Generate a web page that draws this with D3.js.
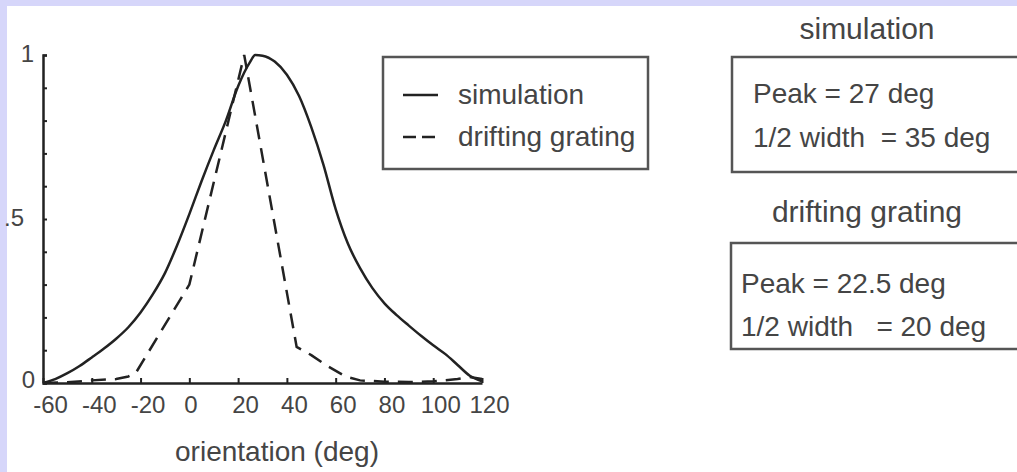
<!DOCTYPE html>
<html>
<head>
<meta charset="utf-8">
<script src="https://cdn.jsdelivr.net/npm/d3@7"></script>
<style>
  html, body { margin: 0; padding: 0; background: #d6d6fa; }
  svg { display: block; }
  text { font-family: "Liberation Sans", Arial, Helvetica, sans-serif; fill: #454545; }
</style>
</head>
<body>
<svg id="chart" width="1017" height="472"></svg>
<script>
// Orientation tuning curves (normalised response vs stimulus orientation)
const simOrientation = [-60,-55,-50,-45,-40,-35,-30,-25,-20,-15,-10,-5,0,5,10,15,20,25,27,30,35,40,45,50,55,60,65,70,75,80,85,90,95,100,105,110,115,120];
const simResponse    = [0,0.012,0.03,0.052,0.078,0.105,0.135,0.17,0.215,0.27,0.335,0.42,0.515,0.615,0.71,0.8,0.905,0.98,1.0,0.998,0.98,0.94,0.875,0.78,0.665,0.53,0.425,0.35,0.29,0.243,0.207,0.175,0.144,0.115,0.088,0.055,0.022,0.005];

const gratingOrientation = [-60,-50,-40,-30,-25,-22,0,22.5,44,50,57,64,70,80,90,100,110,115,120];
const gratingResponse    = [0,0.002,0.008,0.012,0.02,0.03,0.3,1.0,0.11,0.085,0.05,0.02,0.008,0.004,0.003,0.005,0.012,0.018,0.012];

const xTicks = [-60,-40,-20,0,20,40,60,80,100,120];
const yMinorTicks = [0,0.1,0.2,0.3,0.4,0.5,0.6,0.7,0.8,0.9,1];
const yTickValues = [0, 0.5, 1];
const yTickLabels = ["0", ".5", "1"];

const seriesNames = ["simulation", "drifting grating"];
const statTitles = ["simulation", "drifting grating"];
const statPeak = ["Peak = 27 deg", "Peak = 22.5 deg"];
const statWidth = ["1/2 width  = 35 deg", "1/2 width   = 20 deg"];
const xTitle = "orientation (deg)";

const svg = d3.select("#chart");

// white figure panel over the lavender page
svg.append("rect").attr("x", 7).attr("y", 6).attr("width", 1010).attr("height", 466).attr("fill", "#ffffff");

const x = d3.scaleLinear().domain([-60, 120]).range([43, 482]);
const y = d3.scaleLinear().domain([0, 1]).range([383, 55]);

const ink = "#222";

// y axis: small inward ticks every 0.1
const yAxis = svg.append("g")
  .attr("transform", `translate(${x(-60)},0)`)
  .call(d3.axisRight(y).tickValues(yMinorTicks).tickSize(4).tickFormat(""));
yAxis.select(".domain").attr("stroke", ink).attr("stroke-width", 2.5);
yAxis.selectAll(".tick line").attr("stroke", ink).attr("stroke-width", 2);

// y tick labels
const yLabelX = [35, 24, 34];
svg.append("g").selectAll("text")
  .data(yTickValues)
  .join("text")
  .attr("x", (d, i) => yLabelX[i])
  .attr("y", d => y(d))
  .attr("dy", d => d === 0 ? "0.22em" : "0.3em")
  .attr("text-anchor", "end")
  .attr("font-size", 24)
  .text((d, i) => yTickLabels[i]);

// x axis: ticks point up into the plot, labels use a plain hyphen for negatives
const xAxis = svg.append("g")
  .attr("transform", `translate(0,${y(0)})`)
  .call(d3.axisBottom(x).tickValues(xTicks).tickSizeInner(-5).tickSizeOuter(0).tickPadding(13)
    .tickFormat(d => String(d)));
xAxis.select(".domain").attr("stroke", ink).attr("stroke-width", 2.5);
xAxis.selectAll(".tick line").attr("stroke", ink).attr("stroke-width", 2);
xAxis.selectAll(".tick text")
  .attr("font-size", 24)
  .attr("font-family", "\"Liberation Sans\", Arial, Helvetica, sans-serif")
  .attr("fill", "#454545")
  .attr("dx", d => d === 0 ? 1 : 7);

svg.append("text")
  .attr("x", 277).attr("y", 461)
  .attr("text-anchor", "middle")
  .attr("font-size", 28)
  .text(xTitle);

// curves
const simData = simOrientation.map((o, i) => [o, simResponse[i]]);
const gratData = gratingOrientation.map((o, i) => [o, gratingResponse[i]]);

svg.append("path")
  .datum(simData)
  .attr("fill", "none")
  .attr("stroke", ink)
  .attr("stroke-width", 2.5)
  .attr("d", d3.line().x(d => x(d[0])).y(d => y(d[1])).curve(d3.curveMonotoneX));

svg.append("path")
  .datum(gratData)
  .attr("fill", "none")
  .attr("stroke", ink)
  .attr("stroke-width", 2.5)
  .attr("stroke-dasharray", "15,9")
  .attr("d", d3.line().x(d => x(d[0])).y(d => y(d[1])));

// legend
const legend = svg.append("g");
legend.append("rect")
  .attr("x", 383).attr("y", 57).attr("width", 265).attr("height", 112)
  .attr("fill", "none").attr("stroke", "#555").attr("stroke-width", 2.5);
const legendY = [95, 137];
legend.selectAll("line.sample")
  .data(seriesNames)
  .join("line")
  .attr("class", "sample")
  .attr("x1", 403).attr("x2", 438)
  .attr("y1", (d, i) => legendY[i]).attr("y2", (d, i) => legendY[i])
  .attr("stroke", ink).attr("stroke-width", 2.5)
  .attr("stroke-dasharray", (d, i) => i === 0 ? null : "13,6");
legend.selectAll("text")
  .data(seriesNames)
  .join("text")
  .attr("x", 458)
  .attr("y", (d, i) => legendY[i] + 9)
  .attr("font-size", 28)
  .text(d => d);

// summary boxes on the right
const titleY = [39, 222];
const boxTop = [57, 243];
const boxBottom = [172, 349];
const boxLeft = [732, 731];
const textX = [753, 741];
const line1Y = [103, 293];
const line2Y = [147, 336];

const stats = svg.append("g");
statTitles.forEach((t, i) => {
  stats.append("text")
    .attr("x", 867).attr("y", titleY[i])
    .attr("text-anchor", "middle")
    .attr("font-size", 30)
    .text(t);
  stats.append("rect")
    .attr("x", boxLeft[i]).attr("y", boxTop[i])
    .attr("width", 320).attr("height", boxBottom[i] - boxTop[i])
    .attr("fill", "none").attr("stroke", "#555").attr("stroke-width", 2.5);
  stats.append("text")
    .attr("x", textX[i]).attr("y", line1Y[i])
    .attr("font-size", 28)
    .style("white-space", "pre")
    .text(statPeak[i]);
  stats.append("text")
    .attr("x", textX[i]).attr("y", line2Y[i])
    .attr("font-size", 28)
    .style("white-space", "pre")
    .text(statWidth[i]);
});
</script>
</body>
</html>
